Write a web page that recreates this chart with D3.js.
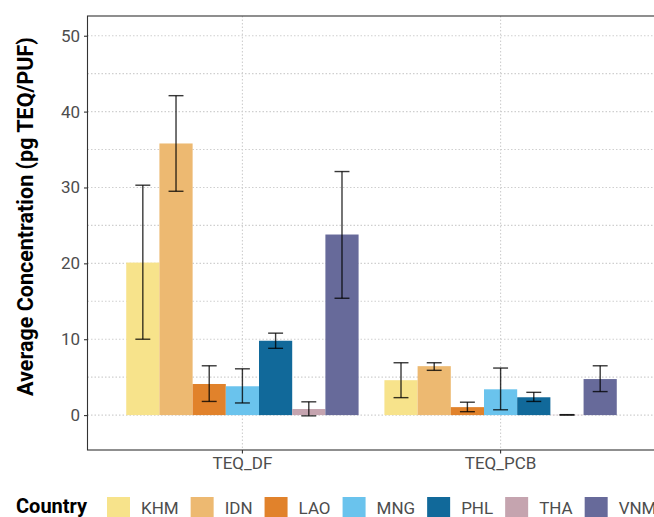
<!DOCTYPE html>
<html>
<head>
<meta charset="utf-8">
<script src="https://cdn.jsdelivr.net/npm/d3@7"></script>
<style>
  body { margin: 0; background: #fff; }
  text { font-family: Roboto, "DejaVu Sans", sans-serif; }
</style>
</head>
<body>
<script>
// Grouped bar chart with error bars, TEQ by country

// data
var groups = ["TEQ_DF", "TEQ_PCB"];
var countries = ["KHM", "IDN", "LAO", "MNG", "PHL", "THA", "VNM"];
var colors = ["#F7E38B", "#EDB971", "#E1822B", "#6AC3ED", "#11699A", "#C5A4AF", "#676A9A"];

var meanDF = [20.1, 35.8, 4.1, 3.8, 9.8, 0.8, 23.8];
var lowDF  = [10.0, 29.5, 1.8, 1.6, 8.8, -0.1, 15.4];
var highDF = [30.3, 42.1, 6.5, 6.1, 10.8, 1.75, 32.1];

var meanPCB = [4.6, 6.45, 1.05, 3.4, 2.35, 0.03, 4.75];
var lowPCB  = [2.3, 5.9, 0.45, 0.7, 1.8, 0.0, 3.1];
var highPCB = [6.9, 6.9, 1.7, 6.2, 3.0, 0.06, 6.5];

var yTicks = [0, 10, 20, 30, 40, 50];
var yMinor = [5, 15, 25, 35, 45];

// build rows for drawing
var rows = [];
countries.forEach(function(c, i) {
    rows.push({group: "TEQ_DF", country: c, mean: meanDF[i], low: lowDF[i], high: highDF[i]});
    rows.push({group: "TEQ_PCB", country: c, mean: meanPCB[i], low: lowPCB[i], high: highPCB[i]});
});

var svgwidth = 654;
var svgheight = 517;

var panel = {left: 87.5, right: 655.5, top: 16, bottom: 450};

var svg = d3.select("body")
            .append("svg")
            .attr("width", svgwidth)
            .attr("height", svgheight);

// scales
var xScale = d3.scaleBand()
        .domain(groups)
        .range([panel.left, panel.right])
        .paddingInner(0.1)
        .paddingOuter(0.15);

var xInner = d3.scaleBand()
        .domain(countries)
        .range([0, xScale.bandwidth()]);

var yScale = d3.scaleLinear()
        .domain([-4.6, 52.6])
        .range([panel.bottom, panel.top]);

var colorScale = d3.scaleOrdinal()
        .domain(countries)
        .range(colors);

// grid lines
var grid = svg.append("g").attr("stroke", "#cfcfcf").attr("stroke-width", 1.1)
              .attr("stroke-dasharray", "1.5,2");

grid.selectAll("line.major")
    .data(yTicks.concat(yMinor))
    .enter()
    .append("line")
    .attr("x1", panel.left)
    .attr("x2", panel.right)
    .attr("y1", d => yScale(d))
    .attr("y2", d => yScale(d));

grid.selectAll("line.vert")
    .data(groups)
    .enter()
    .append("line")
    .attr("x1", d => xScale(d) + xScale.bandwidth() / 2)
    .attr("x2", d => xScale(d) + xScale.bandwidth() / 2)
    .attr("y1", panel.top)
    .attr("y2", panel.bottom);

// bars
svg.append("g")
    .selectAll("rect")
    .data(rows)
    .enter()
    .append("rect")
    .attr("x", d => xScale(d.group) + xInner(d.country))
    .attr("width", xInner.bandwidth())
    .attr("y", d => yScale(Math.max(0, d.mean)))
    .attr("height", d => Math.abs(yScale(d.mean) - yScale(0)))
    .attr("fill", d => colorScale(d.country));

// error bars
var capHalf = xInner.bandwidth() * 0.225;
var errGroup = svg.append("g")
    .attr("stroke", "#000")
    .attr("stroke-opacity", 0.78)
    .attr("stroke-width", 1.4);

var errs = errGroup.selectAll("g")
    .data(rows)
    .enter()
    .append("g")
    .attr("transform", d => `translate(${xScale(d.group) + xInner(d.country) + xInner.bandwidth() / 2}, 0)`);

errs.append("line")
    .attr("x1", 0).attr("x2", 0)
    .attr("y1", d => yScale(d.low))
    .attr("y2", d => yScale(d.high));
errs.append("line")
    .attr("x1", -capHalf).attr("x2", capHalf)
    .attr("y1", d => yScale(d.low))
    .attr("y2", d => yScale(d.low));
errs.append("line")
    .attr("x1", -capHalf).attr("x2", capHalf)
    .attr("y1", d => yScale(d.high))
    .attr("y2", d => yScale(d.high));

// panel border
svg.append("rect")
    .attr("x", panel.left)
    .attr("y", panel.top)
    .attr("width", panel.right - panel.left)
    .attr("height", panel.bottom - panel.top)
    .attr("fill", "none")
    .attr("stroke", "#333")
    .attr("stroke-width", 1.1);

// axes
var leftAxis = d3.axisLeft(yScale).tickValues(yTicks).tickSize(3.5).tickPadding(4);
var bottomAxis = d3.axisBottom(xScale).tickSize(3.5).tickPadding(3);

var yAxisG = svg.append("g")
    .attr("transform", `translate(${panel.left}, 0)`)
    .call(leftAxis);
var xAxisG = svg.append("g")
    .attr("transform", `translate(0, ${panel.bottom})`)
    .call(bottomAxis);

[yAxisG, xAxisG].forEach(function(g) {
    g.select(".domain").remove();
    g.selectAll(".tick line").attr("stroke", "#333").attr("stroke-width", 1.1);
    g.selectAll(".tick text")
        .attr("fill", "#4d4d4d")
        .style("font-size", "17px")
        .style("font-family", "Roboto");
});

// axis title
svg.append("text")
    .attr("transform", "translate(33, 216.5) rotate(-90)")
    .attr("text-anchor", "middle")
    .style("font-size", "21.5px")
    .style("font-weight", "bold")
    .attr("fill", "#000")
    .text("Average Concentration (pg TEQ/PUF)");

// legend
var legend = svg.append("g");
legend.append("text")
    .attr("x", 16)
    .attr("y", 513)
    .style("font-size", "20px")
    .style("font-weight", "bold")
    .attr("fill", "#000")
    .text("Country");

var lx = 107;
countries.forEach(function(c) {
    legend.append("rect")
        .attr("x", lx)
        .attr("y", 497)
        .attr("width", 23)
        .attr("height", 23)
        .attr("fill", colorScale(c));
    var t = legend.append("text")
        .attr("x", lx + 34)
        .attr("y", 514)
        .style("font-size", "17px")
        .attr("fill", "#4d4d4d")
        .text(c);
    lx = lx + 34 + t.node().getComputedTextLength() + 12;
});
</script>
</body>
</html>
